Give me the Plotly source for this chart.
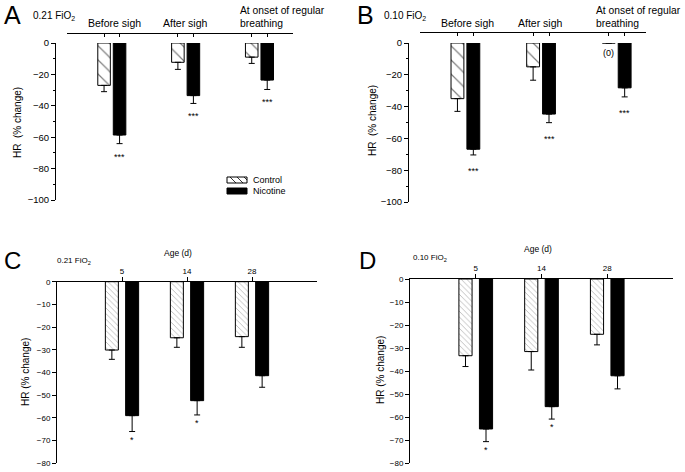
import plotly.graph_objects as go

# ---------------- data ----------------
phases = ["Before sigh", "After sigh", "At onset of regular<br>breathing"]
ages = ["5", "14", "28"]

A_control = [-27, -12.3, -9]
A_control_err = [4, 4.5, 4]
A_nicotine = [-58.6, -33.5, -23.6]
A_nicotine_err = [5.5, 5, 6]
A_sig = ["***", "***", "***"]

B_control = [-35, -15, 0]
B_control_err = [8, 8.4, 0]
B_nicotine = [-66.8, -44.7, -28.2]
B_nicotine_err = [3.6, 5.4, 5.7]
B_sig = ["***", "***", "***"]

C_control = [-30.1, -24.7, -24.2]
C_control_err = [4.1, 4.2, 4.7]
C_nicotine = [-59, -52.4, -41.4]
C_nicotine_err = [7, 6.3, 5.1]
C_sig = ["*", "*", ""]

D_control = [-33.3, -31.5, -24]
D_control_err = [4.7, 8, 4.6]
D_nicotine = [-65.1, -55.4, -42]
D_nicotine_err = [5.5, 5.4, 5.7]
D_sig = ["*", "*", ""]

W, H = 685, 472
FONT = "Liberation Sans, Arial, sans-serif"


def px(x):
    return x / W


def py(y):
    return 1 - y / H


fig = go.Figure()
annotations = []


def add_panel(xa, ya, ctrl, ctrl_err, nic, nic_err, sig, width, c_off, n_off,
              hatch, star_font, star_shift):
    xs = [i + 1 for i in range(len(ctrl))]
    fig.add_trace(go.Bar(
        x=xs, y=ctrl, width=width, offset=c_off, xaxis=xa, yaxis=ya,
        marker=dict(color="white", line=dict(color="black", width=1),
                    pattern=dict(shape="\\", fgcolor="black", bgcolor="white",
                                 size=hatch, solidity=0.12)),
        error_y=dict(type="data", symmetric=False, array=[0] * len(ctrl),
                     arrayminus=ctrl_err, color="black", thickness=1, width=3),
        showlegend=False, name="Control"))
    fig.add_trace(go.Bar(
        x=xs, y=nic, width=width, offset=n_off, xaxis=xa, yaxis=ya,
        marker=dict(color="black", line=dict(color="black", width=1)),
        error_y=dict(type="data", symmetric=False, array=[0] * len(nic),
                     arrayminus=nic_err, color="black", thickness=1, width=3),
        showlegend=False, name="Nicotine"))
    for i, s in enumerate(sig):
        if s:
            annotations.append(dict(
                x=xs[i] + n_off + width / 2, y=nic[i] - nic_err[i],
                xref=xa, yref=ya, text=s, showarrow=False,
                xanchor="center", yanchor="top", yshift=star_shift,
                font=dict(size=star_font, family=FONT, color="black")))
    return xs


AB_w, AB_c, AB_n = 0.17, -0.19, 0.02
CD_w, CD_c, CD_n = 0.2, -0.256, 0.056

xsA = add_panel("x", "y", A_control, A_control_err, A_nicotine, A_nicotine_err,
                A_sig, AB_w, AB_c, AB_n, 10, 9, -6)
xsB = add_panel("x2", "y2", B_control, B_control_err, B_nicotine, B_nicotine_err,
                B_sig, AB_w, AB_c, AB_n, 10, 9, -9)
xsC = add_panel("x3", "y3", C_control, C_control_err, C_nicotine, C_nicotine_err,
                C_sig, CD_w, CD_c, CD_n, 4, 9, -1)
xsD = add_panel("x4", "y4", D_control, D_control_err, D_nicotine, D_nicotine_err,
                D_sig, CD_w, CD_c, CD_n, 4, 9, -1)


def bar_centers(xs):
    out = []
    for x in xs:
        out += [x + AB_c + AB_w / 2, x + AB_n + AB_w / 2]
    return out


tickfont_ab = dict(size=9.5, family=FONT, color="black")
tickfont_cd = dict(size=8, family=FONT, color="black")

common_top = dict(showline=True, linecolor="black", linewidth=1, ticks="inside",
                  ticklen=3, tickcolor="black", showticklabels=False,
                  showgrid=False, zeroline=False, side="top", anchor="free",
                  automargin=False)
common_yab = dict(range=[-100, 0], showline=True, linecolor="black", linewidth=1,
                  ticks="outside", ticklen=4, tickcolor="black", dtick=20,
                  tickfont=tickfont_ab, showgrid=False, zeroline=False,
                  anchor="free", automargin=False,
                  minor=dict(ticks="outside", ticklen=2, dtick=10, tickcolor="black"))
common_xcd = dict(range=[0, 4], showline=True, linecolor="black", linewidth=1,
                  ticks="outside", ticklen=4, tickcolor="black",
                  tickvals=[1, 2, 3], ticktext=ages, tickfont=tickfont_cd,
                  showgrid=False, zeroline=False, side="top", automargin=False)
common_ycd = dict(range=[-80, 0], showline=True, linecolor="black", linewidth=1,
                  ticks="outside", ticklen=4, tickcolor="black", dtick=10,
                  tickfont=tickfont_cd, showgrid=False, zeroline=False,
                  automargin=False)

fig.update_layout(
    width=W, height=H, margin=dict(l=0, r=0, t=0, b=0, pad=0, autoexpand=False),
    paper_bgcolor="white", plot_bgcolor="white",
    barmode="overlay", showlegend=False,
    font=dict(family=FONT, color="black"),
    xaxis=dict(domain=[px(67), px(293)], range=[0.393, 3.454],
               tickvals=bar_centers(xsA), position=py(33), **common_top),
    yaxis=dict(domain=[py(200), py(43)], position=px(55), **common_yab),
    xaxis2=dict(domain=[px(420), px(646)], range=[0.40, 3.387],
                tickvals=bar_centers(xsB), position=py(32), **common_top),
    yaxis2=dict(domain=[py(202), py(43)], position=px(408), **common_yab),
    xaxis3=dict(domain=[px(57), px(317)], anchor="y3", **common_xcd),
    yaxis3=dict(domain=[py(463.3), py(281.7)], anchor="x3", **common_ycd),
    xaxis4=dict(domain=[px(410), px(673)], anchor="y4", **common_xcd),
    yaxis4=dict(domain=[py(463.3), py(279)], anchor="x4", **common_ycd),
)


def txt(x, y, text, size, xanchor="center", yanchor="middle", angle=0, align="center"):
    annotations.append(dict(x=px(x), y=py(y), xref="paper", yref="paper",
                            text=text, showarrow=False, xanchor=xanchor,
                            yanchor=yanchor, textangle=angle, align=align,
                            font=dict(size=size, family=FONT, color="black")))


# panel letters and conditions
txt(2, 15, "A", 25, xanchor="left")
txt(31, 16, "0.21 FiO<sub>2</sub>", 10, xanchor="left")
txt(355, 15, "B", 25, xanchor="left")
txt(382, 16, "0.10 FiO<sub>2</sub>", 10, xanchor="left")
txt(2, 260, "C", 24, xanchor="left")
txt(55, 261, "0.21 FiO<sub>2</sub>", 8, xanchor="left")
txt(357, 260, "D", 24, xanchor="left")
txt(411, 258, "0.10 FiO<sub>2</sub>", 8, xanchor="left")

# phase labels (A, B)
txt(114, 23, phases[0], 10.5)
txt(185, 23, phases[1], 10.5)
txt(238, 17, phases[2], 10.3, xanchor="left", align="left")
txt(467, 23, phases[0], 10.5)
txt(540, 23, phases[1], 10.5)
txt(594, 17, phases[2], 10.3, xanchor="left", align="left")

# "(0)" marker in B
annotations.append(dict(x=xsB[2] + AB_c + AB_w / 2, y=B_control[2], xref="x2", yref="y2",
                        text="(0)", showarrow=False, xanchor="center", yanchor="top",
                        yshift=-3, font=dict(size=9, family=FONT, color="black")))

# age titles
txt(178, 253, "Age (d)", 8.5)
txt(538, 249, "Age (d)", 8.5)

# y-axis titles
txt(17, 123, "HR  (% change)", 10, angle=-90)
txt(373, 121, "HR  (% change)", 10, angle=-90)
txt(25, 372, "HR (% change)", 10, angle=-90)
txt(380, 370, "HR (% change)", 10, angle=-90)

# legend (panel A)
shapes = []
shapes.append(dict(type="rect", xref="paper", yref="paper",
                   x0=px(227), x1=px(247), y0=py(183), y1=py(177),
                   line=dict(color="black", width=1), fillcolor="white"))
shapes.append(dict(type="path", xref="paper", yref="paper",
                   path="M %f %f L %f %f M %f %f L %f %f M %f %f L %f %f" % (
                       px(230), py(177), px(236), py(183),
                       px(237), py(177), px(243), py(183),
                       px(244), py(177), px(247), py(180)),
                   line=dict(color="black", width=0.8)))
shapes.append(dict(type="rect", xref="paper", yref="paper",
                   x0=px(227), x1=px(247), y0=py(194), y1=py(188),
                   line=dict(color="black", width=1), fillcolor="black"))
txt(251, 180, "Control", 9, xanchor="left")
txt(251, 191, "Nicotine", 9, xanchor="left")

fig.update_layout(annotations=annotations, shapes=shapes)

post = (
    "document.documentElement.style.margin='0';"
    "document.documentElement.style.overflow='hidden';"
    "document.body.style.margin='0';document.body.style.padding='0';"
    "document.body.style.overflow='hidden';"
    "var gd=document.getElementById('{plot_id}');"
    "gd.style.position='fixed';gd.style.top='0px';gd.style.left='0px';"
)
fig.write_html("out.html", config={"displayModeBar": False}, post_script=post)
